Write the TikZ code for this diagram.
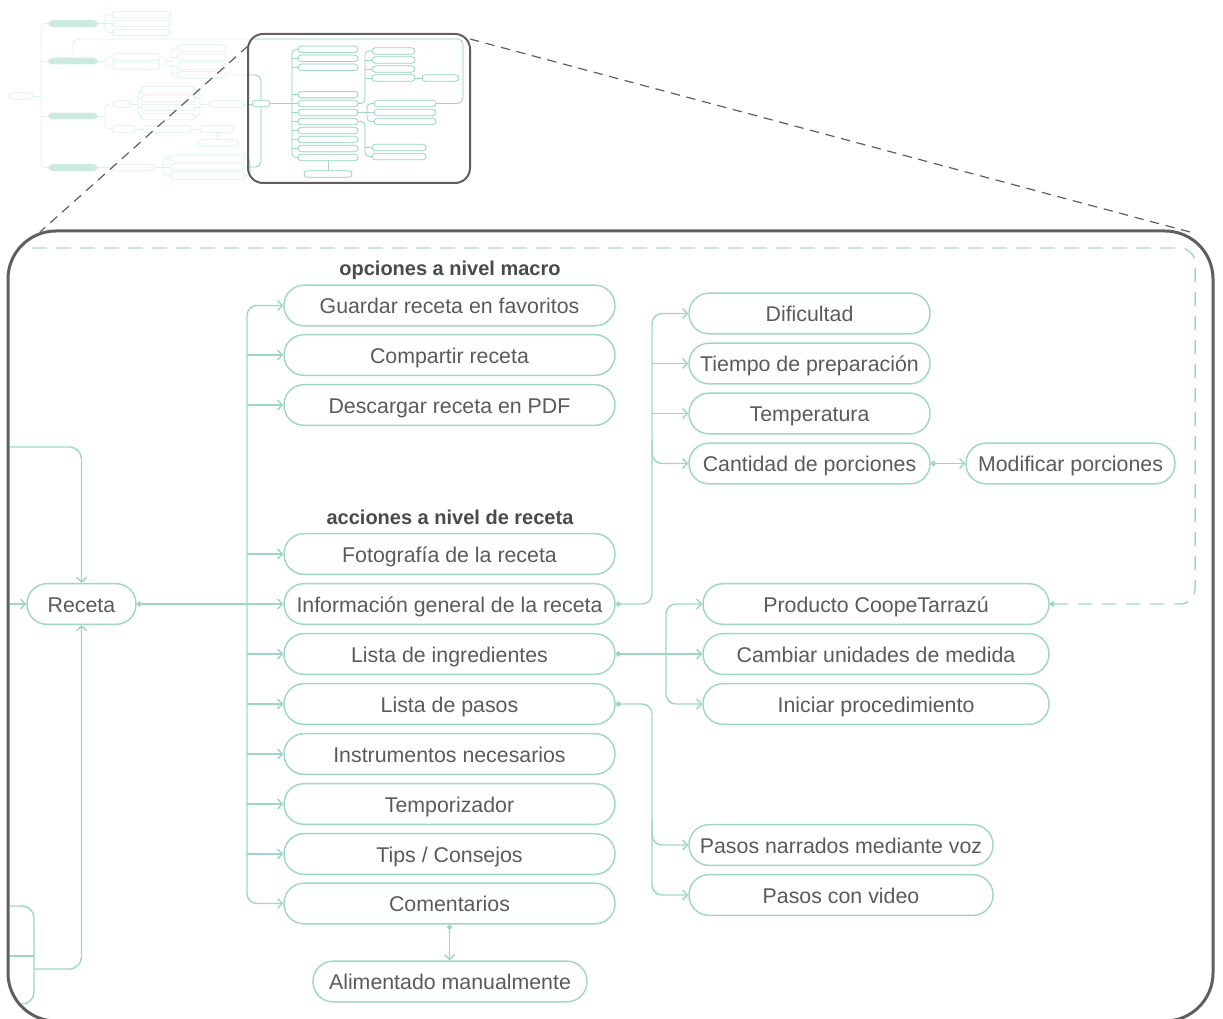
\documentclass[tikz,border=0pt]{standalone}
\usepackage{fontspec}
\setmainfont{Liberation Sans}
\usetikzlibrary{arrows.meta}
\definecolor{mint}{HTML}{9ED8C2}
\definecolor{mmfaint}{HTML}{DCF1E9}
\definecolor{mmfillc}{HTML}{CDEAE0}
\definecolor{txt}{HTML}{5A5A5A}
\definecolor{labc}{HTML}{4A4A4A}
\definecolor{framec}{HTML}{5F5F5F}
\newcommand\mmr[3]{\draw[mmb] (#1,#3-3.2) rectangle (#2,#3+3.2);}
\newcommand\minimapdraw{%
 \mmr{9}{33}{96}
 \draw[mml] (33,96) -- (41,96);
 \draw[mml,rounded corners=3] (48,23.5) -| (41,167.5) -- (48,167.5);
 \draw[mml] (41,61) -- (48,61) (41,116) -- (48,116);
 \fill[mmfillc,rounded corners=3.3] (48,20.2) rectangle (98,27);
 \fill[mmfillc,rounded corners=3.3] (48,57.7) rectangle (98,64.4);
 \fill[mmfillc,rounded corners=3.3] (48,112.7) rectangle (98,119.4);
 \fill[mmfillc,rounded corners=3.3] (48,164.2) rectangle (98,170.9);
 % node 1
 \draw[mml] (98,23.5) -- (112,23.5);
 \draw[mml,rounded corners=3] (112,14.5) -| (105,32.5) -- (112,32.5);
 \mmr{112}{171}{14.5}\mmr{112}{171}{23.5}\mmr{112}{171}{32.5}
 % node 2
 \draw[mml] (98,61) -- (105,61);
 \draw[mml,rounded corners=3] (112,57) -| (105,66) -- (112,66);
 \mmr{112}{160}{57}\mmr{112}{160}{66}
 \draw[mml,rounded corners=3] (160,57) -| (166,66) -- (160,66);
 \draw[mml] (166,61.5) -- (171,61.5) (171,57) -- (177,57) (171,66) -- (177,66);
 \draw[mml,rounded corners=3] (177,48) -| (171,75) -- (177,75);
 \mmr{177}{226}{48}\mmr{177}{226}{57}\mmr{177}{226}{66}\mmr{177}{226}{75}
 \draw[mml,rounded corners=4] (226,75) -| (261,100.3);
 \draw[mml,rounded corners=4] (73,58) |- (463,39) |- (436,103.5);
 % node 3
 \draw[mml] (98,116) -- (105,116);
 \draw[mml,rounded corners=3] (112,104) -| (105,129) -- (112,129);
 \mmr{112}{131}{104}\mmr{112}{135}{129}
 \draw[mml] (131,104) -- (138,104);
 \draw[mml,rounded corners=3] (141,90) -| (138,116.5) -- (141,116.5);
 \draw[mml] (138,98.5) -- (141,98.5) (138,107.5) -- (141,107.5);
 \mmr{141}{195}{90}\mmr{141}{195}{98.5}\mmr{141}{195}{107.5}\mmr{141}{195}{116.5}
 \draw[mml,rounded corners=3] (195,90) -| (200,116.5) -- (195,116.5);
 \draw[mml] (195,98.5) -- (200,98.5) (195,107.5) -- (200,107.5) (200,104) -- (209,104);
 \mmr{209}{244}{104}
 \draw[mml] (244,104) -- (252,104);
 \draw[mml] (135,129) -- (143,129);
 \mmr{143}{192}{129}
 \draw[mml] (192,129) -- (200,129);
 \mmr{200}{234}{129}
 \draw[mml] (217,132.2) -- (217,139.8);
 \mmr{198}{238}{143}
 % node 4
 \draw[mml] (98,167.5) -- (112,167.5);
 \mmr{112}{155}{167.5}
 \draw[mml] (155,167.5) -- (163,167.5);
 \draw[mml,rounded corners=3] (170,158) -| (163,176) -- (170,176);
 \draw[mml] (163,167) -- (170,167);
 \mmr{170}{245}{158}\mmr{170}{245}{167}\mmr{170}{245}{176}
 \draw[mml,rounded corners=3] (245,158) -| (250,176) -- (245,176);
 \draw[mml,rounded corners=4] (245,167) -| (261,106.7);
 % inner (framed) part
 \mmr{252}{270}{103.5}
 \draw[mml] (270,103.5) -- (292,103.5);
 \draw[mml,rounded corners=3] (298,49.3) -| (292,157.5) -- (298,157.5);
 \foreach \yy in {58.3,67.3,94.7,103.5,112.5,121.5,130.5,139.5,148.5}{\draw[mml] (292,\yy) -- (298,\yy);}
 \foreach \yy in {49.3,58.3,67.3,94.7,103.5,112.5,121.5,130.5,139.5,148.5,157.5}{\mmr{298}{358}{\yy}}
 \draw[mml] (328,160.7) -- (328,170.8);
 \mmr{304}{352}{174}
 \draw[mml,rounded corners=3] (358,103.5) -| (365,51) -- (372,51);
 \draw[mml] (365,60) -- (372,60) (365,69) -- (372,69) (365,78) -- (372,78);
 \mmr{372}{415}{51}\mmr{372}{415}{60}\mmr{372}{415}{69}\mmr{372}{415}{78}
 \draw[mml] (415,78) -- (422,78);
 \mmr{422}{459}{78}
 \draw[mml] (358,112.5) -- (374,112.5);
 \draw[mml,rounded corners=3] (374,103.5) -| (367,121.5) -- (374,121.5);
 \mmr{374}{436}{103.5}\mmr{374}{436}{112.5}\mmr{374}{436}{121.5}
 \draw[mml,rounded corners=3] (358,121.5) -| (365,156.5) -- (372,156.5);
 \draw[mml] (365,147.5) -- (372,147.5);
 \mmr{372}{426}{147.5}\mmr{372}{426}{156.5}
}
\begin{document}
\begin{tikzpicture}[x=0.75pt,y=-0.75pt,
  mmb/.style={draw=mmcol,line width=0.6pt,rounded corners=2.4pt},
  mml/.style={draw=mmcol,line width=0.6pt},
  box/.style={draw=mint,line width=1.1pt,rounded corners=15pt,minimum height=30.5pt,inner sep=0pt,text=txt,font=\fontsize{16}{19}\selectfont,text height=12.3pt,text depth=0pt},
  w/.style={minimum width=#1*0.75pt},
  lab/.style={text=labc,font=\fontsize{15}{18}\selectfont\bfseries,inner sep=0pt,text height=11.5pt,text depth=0pt},
  conn/.style={draw=mint,line width=1.1pt},
  arr/.style={-{Straight Barb[length=3.5pt,width=7.5pt]}},
  dotarr/.style={{Circle[length=4pt]}-{Straight Barb[length=3.5pt,width=7.5pt]}},
  dotonly/.style={{Circle[length=4pt]}-},
  ]
\useasboundingbox (0,0) rectangle (1223,1019);
% minimap
\begin{scope}
 \colorlet{mmcol}{mmfaint}
 \minimapdraw
\end{scope}
\begin{scope}
 \clip[rounded corners=15*0.75pt] (248,34) rectangle (470,183);
 \colorlet{mmcol}{mint}
 \minimapdraw
\end{scope}
\draw[framec,line width=1.5pt,rounded corners=15*0.75pt] (248,34) rectangle (470,183);
\draw[framec,line width=0.9pt,dash pattern=on 7pt off 5pt] (248,46) -- (40,232);
\draw[framec,line width=0.9pt,dash pattern=on 7pt off 5pt] (470,39) -- (1190,232);

% main nodes
\node[box,w=109] (rec) at (81.5,604) {Receta};
\node[box,w=331] (guar) at (449.5,305.5) {Guardar receta en favoritos};
\node[box,w=331] (comp) at (449.5,355) {Compartir receta};
\node[box,w=331] (desc) at (449.5,405) {Descargar receta en PDF};
\node[box,w=331] (foto) at (449.5,554) {Fotografía de la receta};
\node[box,w=331] (info) at (449.5,604) {Información general de la receta};
\node[box,w=331] (ing) at (449.5,654) {Lista de ingredientes};
\node[box,w=331] (pas) at (449.5,704) {Lista de pasos};
\node[box,w=331] (inst) at (449.5,754) {Instrumentos necesarios};
\node[box,w=331] (temp) at (449.5,804) {Temporizador};
\node[box,w=331] (tips) at (449.5,854) {Tips / Consejos};
\node[box,w=331] (com) at (449.5,903.5) {Comentarios};
\node[box,w=274] (ali) at (450,981.5) {Alimentado manualmente};
\node[box,w=241] (dif) at (809.5,313.5) {Dificultad};
\node[box,w=241] (tie) at (809.5,363.5) {Tiempo de preparación};
\node[box,w=241] (tmp) at (809.5,413.5) {Temperatura};
\node[box,w=241] (can) at (809.5,463.5) {Cantidad de porciones};
\node[box,w=209] (mod) at (1070.5,463.5) {Modificar porciones};
\node[box,w=346] (pro) at (876,604) {Producto CoopeTarrazú};
\node[box,w=346] (cam) at (876,654) {Cambiar unidades de medida};
\node[box,w=346] (ini) at (876,704) {Iniciar procedimiento};
\node[box,w=304] (nar) at (841,845) {Pasos narrados mediante voz};
\node[box,w=304] (vid) at (841,895) {Pasos con video};
\node[lab] (l1) at (450,268) {opciones a nivel macro};
\node[lab] (l2) at (450,517) {acciones a nivel de receta};

% connectors
\coordinate (tk) at (247,604);
\draw[conn,dotarr] (rec.east) -- (info.west);
\draw[conn,arr,rounded corners=10*0.75pt] (tk) |- (guar.west);
\draw[conn,arr,rounded corners=10*0.75pt] (tk) |- (com.west);
\foreach \n in {comp,desc,foto,ing,pas,inst,temp,tips}{\draw[conn,arr] (tk |- \n.west) -- (\n.west);}
\coordinate (it) at (652,604);
\draw[conn,dotarr,rounded corners=10*0.75pt] (info.east) -| (it |- dif.west) -- (dif.west);
\draw[conn,arr] (it |- tie.west) -- (tie.west);
\draw[conn,arr] (it |- tmp.west) -- (tmp.west);
\coordinate (itc) at (652,440);
\draw[conn,arr,rounded corners=10*0.75pt] (itc) |- (can.west);
\draw[conn,dotarr] (can.east) -- (mod.west);
\draw[conn,dotarr] (ing.east) -- (cam.west);
\coordinate (gt) at (666,654);
\draw[conn,{Straight Barb[length=3.5pt,width=7.5pt]}-{Straight Barb[length=3.5pt,width=7.5pt]},rounded corners=10*0.75pt] (pro.west) -| (gt) |- (ini.west);
\coordinate (pt) at (652,800);
\draw[conn,dotarr,rounded corners=10*0.75pt] (pas.east) -| (pt) |- (vid.west);
\coordinate (pt2) at (652,820);
\draw[conn,arr,rounded corners=10*0.75pt] (pt2) |- (nar.west);
\draw[conn,dotarr] (com.south) -- (com.south |- ali.north);

\begin{scope}
 \clip[rounded corners=48*0.75pt] (9.5,232.5) rectangle (1211.5,1019.5);
 \draw[conn,dotonly,dash pattern=on 10.5pt off 7.5pt,rounded corners=15*0.75pt] (pro.east) -- (1195,604) -- (1195,248) -- (0,248);
 \coordinate (la) at (0,447);
 \draw[conn,arr,rounded corners=12*0.75pt] (la) -| (rec.north);
 \coordinate (lb) at (0,604);
 \draw[conn,arr] (lb) -- (rec.west);
 \coordinate (lc) at (0,906);
 \draw[conn,rounded corners=12*0.75pt] (lc) -- (34,906) -- (34,1004) -- (0,1004);
 \coordinate (ld) at (0,956);
 \coordinate (le) at (34,956);
 \draw[conn] (ld) -- (le);
 \coordinate (lf) at (34,969);
 \draw[conn,arr,rounded corners=12*0.75pt] (lf) -| (rec.south);
\end{scope}
\draw[framec,line width=2.25pt,rounded corners=48*0.75pt] (8,231) rectangle (1213,1021);
\end{tikzpicture}
\end{document}
